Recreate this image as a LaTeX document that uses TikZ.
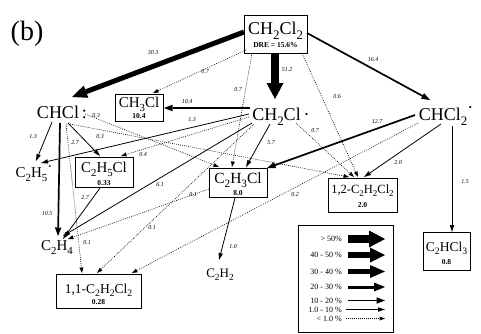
\documentclass[tikz,border=0pt]{standalone}
\usepackage{fontspec}
\setmainfont{Liberation Serif}
\usepackage{graphicx}
\usetikzlibrary{arrows.meta}
\newcommand\fsz[1]{\fontsize{#1}{#1}\selectfont}
\newcommand\dn[1]{\raisebox{-0.28em}{\scalebox{0.72}{#1}}}
\newcommand\rdot{\raisebox{0.35em}{·}}
\begin{document}
\begin{tikzpicture}[x=1pt,y=-1pt,
  spc/.style={anchor=base, inner sep=0pt},
  cbox/.style={draw, line width=0.8pt, inner sep=0pt},
  lab/.style={font=\fsz{6}\itshape, inner sep=0pt},
  num/.style={font=\fsz{7.5}\bfseries, anchor=base, inner sep=0pt},
  legt/.style={font=\fsz{8}, anchor=base east, inner sep=0pt},
  aBig/.style={line width=7.5pt, -{Triangle[width=17pt 0,length=16pt 0,line width=0pt]}},
  aForty/.style={line width=6.5pt, -{Triangle[width=15pt 0,length=15pt 0,line width=0pt]}},
  aThirty/.style={line width=5pt, -{Triangle[width=13pt 0,length=15pt 0,line width=0pt]}},
  aTwenty/.style={line width=3pt, -{Triangle[width=9pt 0,length=11pt 0,line width=0pt]}},
  aTen/.style={line width=1.7pt, -{Triangle[width=6.5pt 0,length=8.5pt 0,line width=0pt]}},
  aOne/.style={line width=0.8pt, -{Triangle[width=4.5pt 0,length=7pt 0,line width=0pt]}},
  aDot/.style={line width=0.6pt, dash pattern=on 0.8pt off 1.2pt, -{Triangle[width=4pt 0,length=5.5pt 0,line width=0pt]}},
]
\useasboundingbox (0,0) rectangle (481,333);

% label (b)
\node[spc, font=\fsz{28}] (tag) at (27,40) {(b)};

% boxes
\node[cbox, minimum width=63pt, minimum height=38pt] (dcm) at (275.5,34) {};
\node[spc, font=\fsz{18}] (dcmf) at (275.5,34) {CH\dn{2}Cl\dn{2}};
\node[num] (dcmn) at (275.5,47) {DRE = 15.6\%};

\node[cbox, minimum width=48pt, minimum height=27pt] (ch3cl) at (139,107.5) {};
\node[spc, font=\fsz{15}] (ch3clf) at (139,107) {CH\dn{3}Cl};
\node[num] (ch3cln) at (139,118) {10.4};

\node[cbox, minimum width=58pt, minimum height=30pt] (c2h5cl) at (104,172) {};
\node[spc, font=\fsz{15}] (c2h5clf) at (104,172) {C\dn{2}H\dn{5}Cl};
\node[num] (c2h5cln) at (104,185) {0.33};

\node[cbox, minimum width=58pt, minimum height=29pt] (c2h3cl) at (238,182.5) {};
\node[spc, font=\fsz{15.5}] (c2h3clf) at (238,183) {C\dn{2}H\dn{3}Cl};
\node[num] (c2h3cln) at (238,195) {8.0};

\node[cbox, minimum width=69pt, minimum height=34pt] (d12) at (362.5,195) {};
\node[spc, font=\fsz{12.5}] (d12f) at (362.5,193) {1,2-C\dn{2}H\dn{2}Cl\dn{2}};
\node[num] (d12n) at (362.5,207) {2.0};

\node[cbox, minimum width=85pt, minimum height=34pt] (d11) at (98.5,291) {};
\node[spc, font=\fsz{13.5}] (d11f) at (98.5,293) {1,1-C\dn{2}H\dn{2}Cl\dn{2}};
\node[num] (d11n) at (98.5,304) {0.28};

\node[cbox, minimum width=47pt, minimum height=38pt] (tce) at (446.5,251) {};
\node[spc, font=\fsz{13.5}] (tcef) at (446.5,251) {C\dn{2}HCl\dn{3}};
\node[num] (tcen) at (446.5,264) {0.8};

% free species
\node[spc, font=\fsz{18}] (chcl) at (62,118) {CHCl\,:};
\node[spc, font=\fsz{18}] (ch2cl) at (281,120) {CH\dn{2}Cl\,·};
\node[spc, font=\fsz{18}] (chcl2) at (446,120) {CHCl\dn{2}\rdot};
\node[spc, font=\fsz{15}] (c2h5) at (34,177) {C\dn{2}H\dn{5}\rdot};
\node[spc, font=\fsz{15}] (c2h4) at (57,250) {C\dn{2}H\dn{4}};
\node[spc, font=\fsz{13}] (c2h2) at (220,277) {C\dn{2}H\dn{2}};

% connectors from CH2Cl2
\draw[aThirty] ([shift={(-31.5,-2)}]dcm.center) -- ([shift={(10,-21)}]chcl.base);
\draw[aDot] ([shift={(-29.5,16)}]dcm.center) -- ([shift={(14,-14.5)}]ch3cl.center);
\draw[aBig] ([shift={(-0.5,19)}]dcm.center) -- ([shift={(-6,-21)}]ch2cl.base);
\draw[aDot] ([shift={(-23.5,19)}]dcm.center) -- ([shift={(-6,-15.5)}]c2h3cl.center);
\draw[aDot] ([shift={(26.5,19)}]dcm.center) -- ([shift={(-4.5,-18)}]d12.center);
\draw[aTen] ([shift={(31.5,-1)}]dcm.center) -- ([shift={(-16,-20)}]chcl2.base);

% from CH2Cl.
\draw[aTen] ([shift={(-31,-12)}]ch2cl.base) -- ([shift={(25,0.5)}]ch3cl.center);
\draw[aOne] ([shift={(-32,-6)}]ch2cl.base) -- ([shift={(7,-14)}]c2h5.base);
\draw[aDot] ([shift={(-32,-3)}]ch2cl.base) -- ([shift={(17,-16)}]c2h5cl.center);
\draw[aOne] ([shift={(-29,3)}]ch2cl.base) -- ([shift={(6,-14)}]c2h4.base);
\draw[aDot] ([shift={(-27,4)}]ch2cl.base) -- ([shift={(-1.5,-18)}]d11.center);
\draw[aOne] ([shift={(-11,4)}]ch2cl.base) -- ([shift={(8,-15.5)}]c2h3cl.center);
\draw[aDot] ([shift={(15,3)}]ch2cl.base) -- ([shift={(-8.5,-18)}]d12.center);

% from CHCl:
\draw[aOne] ([shift={(-10,4)}]chcl.base) -- ([shift={(2,-16)}]c2h5.base);
\draw[aOne] ([shift={(6,5)}]chcl.base) -- ([shift={(-4,-16)}]c2h5cl.center);
\draw[aTen] ([shift={(-2,5)}]chcl.base) -- ([shift={(1,-14)}]c2h4.base);
\draw[aDot] ([shift={(4,6)}]chcl.base) -- ([shift={(-16.5,-18)}]d11.center);
\draw[aDot] ([shift={(23,-4)}]chcl.base) -- ([shift={(-19,-15.5)}]c2h3cl.center);
\draw[aDot] ([shift={(8,6)}]chcl.base) -- ([shift={(-13.5,-18)}]d12.center);

% from CHCl2.
\draw[aTen] ([shift={(-31,-5)}]chcl2.base) -- ([shift={(29,-14.5)}]c2h3cl.center);
\draw[aOne] ([shift={(-5,4)}]chcl2.base) -- ([shift={(1.5,-18)}]d12.center);
\draw[aDot] ([shift={(-28,3)}]chcl2.base) -- ([shift={(33.5,-18)}]d11.center);
\draw[aOne] ([shift={(6,6)}]chcl2.base) -- ([shift={(5.5,-19)}]tce.center);

% others
\draw[aOne] ([shift={(-4,16)}]c2h5cl.center) -- ([shift={(6,-11)}]c2h4.base);
\draw[aDot] ([shift={(-29,6.5)}]c2h3cl.center) -- ([shift={(11,-11)}]c2h4.base);
\draw[aOne] ([shift={(-3,15.5)}]c2h3cl.center) -- ([shift={(-1,-17)}]c2h2.base);

% edge labels
\node[lab] (l1) at (153,53) {30.3};
\node[lab] (l2) at (205,72) {0.7};
\node[lab] (l3) at (287,70) {51.2};
\node[lab] (l4) at (238,90) {0.7};
\node[lab] (l5) at (337,97) {0.6};
\node[lab] (l6) at (373,60) {16.4};
\node[lab] (l7) at (187,102) {10.4};
\node[lab] (l8) at (192,120) {1.3};
\node[lab] (l9) at (143,155) {0.4};
\node[lab] (l10) at (160,185) {6.1};
\node[lab] (l11) at (152,228) {0.1};
\node[lab] (l12) at (271,143) {5.7};
\node[lab] (l13) at (315,131) {0.7};
\node[lab] (l14) at (33,137) {1.3};
\node[lab] (l15) at (75,143) {2.7};
\node[lab] (l16) at (47,214) {10.5};
\node[lab] (l17) at (87,243) {0.1};
\node[lab] (l18) at (96,116) {0.3};
\node[lab] (l19) at (100,137) {0.3};
\node[lab] (l20) at (377,122) {12.7};
\node[lab] (l21) at (398,163) {2.0};
\node[lab] (l22) at (295,195) {0.2};
\node[lab] (l23) at (465,182) {1.5};
\node[lab] (l24) at (85,198) {2.7};
\node[lab] (l25) at (193,195) {0.1};
\node[lab] (l26) at (233,247) {1.0};

% legend
\node[cbox, minimum width=95pt, minimum height=107pt] (leg) at (345.5,278.5) {};
\node[legt] (g1) at (342,241.7) {> 50\%};
\node[legt] (g2) at (342,257.7) {40 - 50 \%};
\node[legt] (g3) at (342,274.2) {30 - 40 \%};
\node[legt] (g4) at (342,289.7) {20 - 30 \%};
\node[legt] (g5) at (342,303.2) {10 - 20 \%};
\node[legt] (g6) at (342,312.2) {1.0 - 10 \%};
\node[legt] (g7) at (342,321.2) {< 1.0 \%};
\draw[aBig] ([shift={(6,-2.7)}]g1.base east) -- ([shift={(43,-2.7)}]g1.base east);
\draw[aForty] ([shift={(6,-2.7)}]g2.base east) -- ([shift={(43,-2.7)}]g2.base east);
\draw[aThirty] ([shift={(6,-2.7)}]g3.base east) -- ([shift={(43,-2.7)}]g3.base east);
\draw[aTwenty] ([shift={(6,-2.7)}]g4.base east) -- ([shift={(43,-2.7)}]g4.base east);
\draw[aTen] ([shift={(6,-2.7)}]g5.base east) -- ([shift={(43,-2.7)}]g5.base east);
\draw[aOne] ([shift={(4,-2.7)}]g6.base east) -- ([shift={(43,-2.7)}]g6.base east);
\draw[aDot] ([shift={(4,-2.7)}]g7.base east) -- ([shift={(43,-2.7)}]g7.base east);
\end{tikzpicture}
\end{document}
